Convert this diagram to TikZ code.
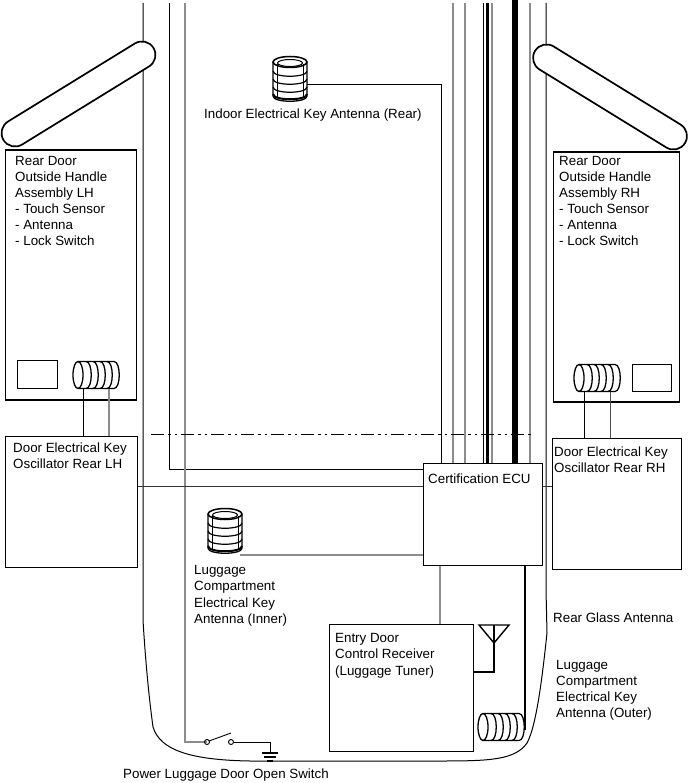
\documentclass[tikz,border=0pt]{standalone}
\usepackage{fontspec}
\setmainfont{Liberation Sans}
\usetikzlibrary{positioning,calc,shapes.misc}

\definecolor{wiregray}{gray}{0.55}
\tikzset{
  box/.style={draw, rectangle, line width=1.6pt, fill=white, anchor=north west, inner sep=0pt},
  txt/.style={anchor=north west, inner sep=0pt, align=left, font=\fontsize{13.35}{16.1}\selectfont},
  handle/.style={draw, rounded rectangle, line width=1.7pt, fill=white, inner sep=0pt, minimum width=176pt, minimum height=27pt},
  wire/.style={line width=0.9pt},
  graywire/.style={line width=1.3pt, wiregray},
  pics/hcoil/.style={code={
    \draw[line width=1.3pt, fill=white] (-18,-13.5) -- (18,-13.5) .. controls (25,-13.5) and (25,13.5) .. (18,13.5) -- (-18,13.5);
    \draw[line width=1.3pt] (-18,0) ellipse [x radius=5, y radius=13.5];
    \foreach \k in {-10,-3,4,11}
      \draw[line width=1.3pt] (\k,-13.5) .. controls (\k+7,-13.5) and (\k+7,13.5) .. (\k,13.5);
  }},
  pics/vcoil/.style={code={
    \draw[line width=1.3pt, fill=white] (-17,-17) -- (-17,17) .. controls (-17,24) and (17,24) .. (17,17) -- (17,-17);
    \draw[line width=1.5pt] (0,-17) ellipse [x radius=17, y radius=5.5];
    \draw[line width=1pt] (0,-16) ellipse [x radius=12.5, y radius=3.5];
    \draw[line width=1pt] (-13,-15) -- (-13,19) (13,-15) -- (13,19);
    \foreach \k in {-8,0,8}
      \draw[line width=1.2pt] (-17,\k) .. controls (-17,\k+7) and (17,\k+7) .. (17,\k);
    \draw[line width=2pt] (-17,15) .. controls (-17,22) and (17,22) .. (17,15);
  }}
}

\begin{document}
\begin{tikzpicture}[x=1pt,y=-1pt]
\useasboundingbox (0,0) rectangle (687,783);

% body outline
\draw[line width=1pt] (143,3) -- (143,620) .. controls (146,670) and (150,705) .. (153,727)
  .. controls (160,750) and (190,760) .. (250,761) -- (440,761)
  .. controls (490,761) and (515,760) .. (527,743) .. controls (537,725) and (543,670) .. (547,633) -- (546,590) -- (546,3);

% door handles
\node[handle, rotate=31.6] (handleL) at (78.5,94) {};
\node[handle, rotate=-31.6] (handleR) at (610,97) {};

% boxes
\node[box, minimum width=131pt, minimum height=250pt] (doorL) at (4.5,149) {};
\node[box, minimum width=126pt, minimum height=250pt] (doorR) at (552.5,151) {};
\node[box, minimum width=132pt, minimum height=131pt] (oscL) at (4.5,435.5) {};
\node[box, minimum width=129pt, minimum height=131pt] (oscR) at (551.5,437.5) {};
\node[box, minimum width=119pt, minimum height=102pt] (ecu) at (422.5,462.5) {};
\node[box, minimum width=144pt, minimum height=127pt] (tuner) at (328.5,623.5) {};
\node[box, line width=1.3pt, minimum width=40pt, minimum height=28pt] (swL) at (17,360) {};
\node[box, line width=1.3pt, minimum width=39pt, minimum height=27pt] (swR) at (632,364) {};

% coils
\coordinate (coilL) at (96,375);
\coordinate (coilR) at (597,378);
\coordinate (coilOut) at (501,727);
\coordinate (antRear) at (290,79);
\coordinate (antIn) at (225,531);
\pic at (coilL) {hcoil};
\pic at (coilR) {hcoil};
\pic at (coilOut) {hcoil};
\pic at (antRear) {vcoil};
\pic at (antIn) {vcoil};

% wires from the top
\foreach \n/\x/\s in {a/453/graywire,b/465/graywire,c/483/wire,d/492/graywire,e/530/graywire}{
  \coordinate (top\n) at (\x,3);
  \draw[\s] (top\n) -- (top\n |- ecu.north);
}
\coordinate (topf) at (487,3);
\coordinate (topg) at (515,0);
\draw[line width=3pt] (topf) -- (topf |- ecu.north);
\draw[line width=6pt] (topg) -- (topg |- ecu.north);
\coordinate (toph) at (169,3);
\draw[wire] (toph) |- ($(ecu.north west)+(0,7)$);
\coordinate (topi) at (185,3);
\coordinate (swA) at (207,742);
\coordinate (swB) at (231,742);
\coordinate (gnd) at (270,753);
\draw[graywire] (topi) |- (swA);
\draw[wire] (swA) circle (2.5);
\draw[wire] (swB) circle (2.5);
\draw[wire] (209,741) -- (231,733);
\draw[wire] ($(swB)+(2.5,0)$) -| (gnd);
\draw[line width=1.6pt] (262,753) -- (278,753);
\draw[line width=1.3pt] (264,757) -- (276,757);
\draw[line width=1.1pt] (267,761) -- (273,761);

% dash dot line
\draw[line width=0.9pt, dash pattern=on 13pt off 4pt on 2.5pt off 4pt on 2.5pt off 4pt] (151,434) -- (533,434);

% connectors
\draw[wire] ($(antRear)+(17,5)$) -- (441,84) -- (441,463);
\draw[wire, black!80] (oscL.east |- 0,486) -- (ecu.west |- 0,486);
\draw[wire, black!80] (ecu.east |- 0,486) -- (oscR.west |- 0,486);
\draw[graywire] ($(antIn)+(15,24)$) -- (ecu.west |- 0,555);
\draw[graywire] (ecu.south -| 440,0) -- (tuner.north -| 440,0);
\draw[wire] (83,389) -- (oscL.north -| 83,0);
\draw[graywire] (109,389) -- (oscL.north -| 109,0);
\draw[wire] (584,392) -- (oscR.north -| 584,0);
\draw[wire, black!70] (610,392) -- (oscR.north -| 610,0);
\draw[line width=1.8pt] (ecu.south -| 525,0) -- (525,730);

% receiver antenna
\coordinate (rxTop) at (494,625);
\draw[line width=1.4pt] (479,625) -- (509,625) -- (494,643) -- cycle;
\draw[line width=1.4pt] (rxTop) -- (494,672) -- (tuner.east |- 0,672);

% labels
\node[txt] (tDoorL) at (15,156) {Rear Door\\Outside Handle\\Assembly LH\\- Touch Sensor\\- Antenna\\- Lock Switch};
\node[txt] (tDoorR) at (559,156) {Rear Door\\Outside Handle\\Assembly RH\\- Touch Sensor\\- Antenna\\- Lock Switch};
\node[txt] (tOscL) at (13,442.5) {Door Electrical Key\\Oscillator Rear LH};
\node[txt] (tOscR) at (554,447) {Door Electrical Key\\Oscillator Rear RH};
\node[txt] (tEcu) at (428,474) {Certification ECU};
\node[txt] (tTuner) at (335,633.5) {Entry Door\\Control Receiver\\(Luggage Tuner)};
\node[txt] (tRear) at (204,109) {Indoor Electrical Key Antenna (Rear)};
\node[txt] (tIn) at (194,565.5) {Luggage\\Compartment\\Electrical Key\\Antenna (Inner)};
\node[txt] (tOut) at (556,660) {Luggage\\Compartment\\Electrical Key\\Antenna (Outer)};
\node[txt] (tGlass) at (553,613) {Rear Glass Antenna};
\node[txt] (tSwitch) at (123,769) {Power Luggage Door Open Switch};
\end{tikzpicture}
\end{document}
